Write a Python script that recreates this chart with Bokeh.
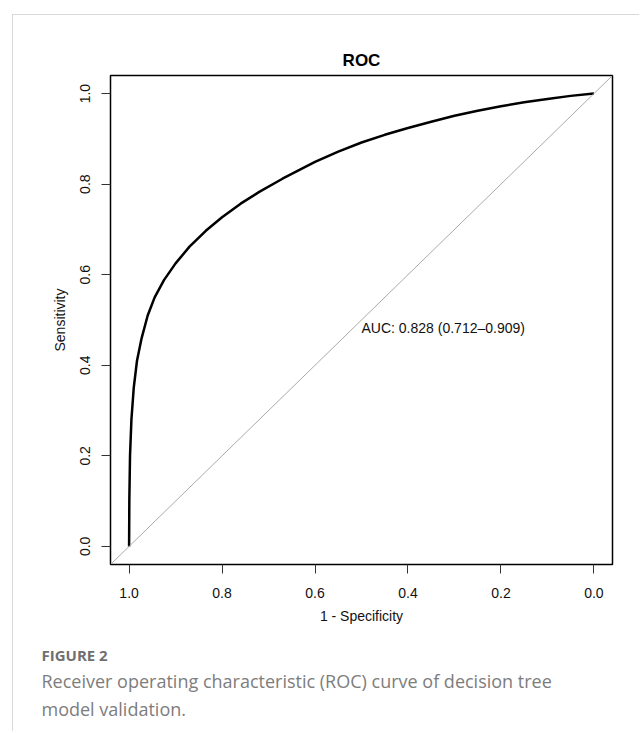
from bokeh.plotting import figure
from bokeh.models import Range1d, FixedTicker, PrintfTickFormatter, Label, Slope, Title
from bokeh.embed import file_html
from bokeh.resources import INLINE

# ROC curve (specificity on reversed x-axis, sensitivity on y)
specificity = [1.0, 0.9995, 0.998, 0.995, 0.99, 0.983, 0.973, 0.96, 0.945, 0.925,
               0.9, 0.87, 0.835, 0.8, 0.76, 0.72, 0.67, 0.6, 0.55, 0.5,
               0.45, 0.4, 0.35, 0.3, 0.25, 0.2, 0.15, 0.1, 0.05, 0.0]
sensitivity = [0.0, 0.1, 0.2, 0.28, 0.35, 0.41, 0.46, 0.51, 0.55, 0.588,
               0.625, 0.662, 0.697, 0.727, 0.757, 0.783, 0.812, 0.849, 0.872, 0.892,
               0.909, 0.924, 0.938, 0.951, 0.962, 0.972, 0.981, 0.988, 0.995, 1.0]
tick_values = [0.0, 0.2, 0.4, 0.6, 0.8, 1.0]
auc_text = "AUC: 0.828 (0.712\u20130.909)"
title_text = "ROC"
caption_head = "FIGURE 2"
caption_lines = ["Receiver operating characteristic (ROC) curve of decision tree",
                 "model validation."]

FONT = "Liberation Sans"

p = figure(width=627, height=717, output_backend="svg", toolbar_location=None,
           x_range=Range1d(1.04, -0.04), y_range=Range1d(-0.04, 1.04),
           min_border_left=97, min_border_top=60, min_border_right=28, min_border_bottom=168)
p.styles = {"margin-left": "12px", "margin-top": "14px",
            "border-left": "1.5px solid #d9d9d9", "border-top": "1.5px solid #d9d9d9"}
p.background_fill_color = "white"
p.border_fill_color = "white"
p.outline_line_color = "black"
p.outline_line_width = 1.5
p.xgrid.visible = False
p.ygrid.visible = False

p.title.text = title_text
p.title.align = "center"
p.title.text_font = FONT
p.title.text_font_size = "17px"
p.title.text_font_style = "bold"
p.title.text_color = "black"
p.title.standoff = 11

for ax in (p.xaxis[0], p.yaxis[0]):
    ax.ticker = FixedTicker(ticks=tick_values)
    ax.formatter = PrintfTickFormatter(format="%.1f")
    ax.axis_line_color = None
    ax.major_tick_line_color = "#333333"
    ax.major_tick_out = 9
    ax.major_tick_in = 0
    ax.minor_tick_line_color = None
    ax.major_label_text_font = FONT
    ax.major_label_text_font_size = "14px"
    ax.major_label_text_color = "#111111"
    ax.axis_label_text_font = FONT
    ax.axis_label_text_font_size = "14px"
    ax.axis_label_text_font_style = "normal"
    ax.axis_label_text_color = "#111111"

p.xaxis.major_label_standoff = 14
p.xaxis.axis_label_standoff = 7
p.yaxis.major_label_standoff = 11
p.yaxis.axis_label_standoff = 10

p.xaxis.axis_label = "1 - Specificity"
p.yaxis.axis_label = "Sensitivity"
p.yaxis.major_label_orientation = "vertical"

p.add_layout(Slope(gradient=-1, y_intercept=1, line_color="#aaaaaa", line_width=1))
p.line(specificity, sensitivity, line_color="black", line_width=2.5)

p.add_layout(Label(x=0.5, y=0.5, text=auc_text, text_align="left", text_baseline="top",
                   text_font=FONT, text_font_size="14px", text_color="#111111"))

# caption (below the plot)
p.add_layout(Title(text=" ", align="left", standoff=12, text_font_size="1px"), "below")
p.add_layout(Title(text=caption_head, align="left", offset=-69, standoff=2,
                   text_font="Open Sans", text_font_style="bold",
                   text_font_size="15px", text_color="#707070"), "below")
p.add_layout(Title(text=caption_lines[0], align="left", offset=-69, standoff=2,
                   text_font="Open Sans", text_font_style="normal",
                   text_font_size="18px", text_color="#7d7d7d"), "below")
p.add_layout(Title(text=caption_lines[1], align="left", offset=-69, standoff=3,
                   text_font="Open Sans", text_font_style="normal",
                   text_font_size="18px", text_color="#7d7d7d"), "below")

open("out.html", "w").write(file_html(p, INLINE))
